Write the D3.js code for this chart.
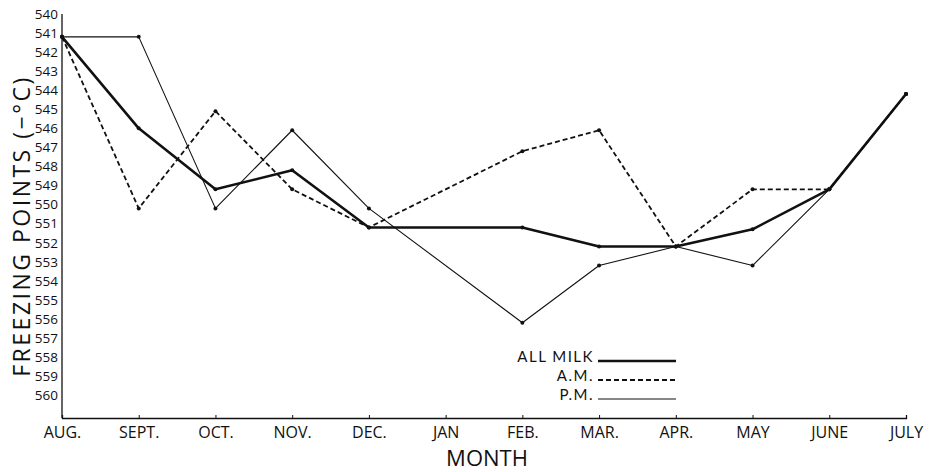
<!DOCTYPE html>
<html>
<head>
<meta charset="utf-8">
<script src="https://cdn.jsdelivr.net/npm/d3@7"></script>
<style>
  body { margin: 0; background: #fff; }
  svg { display: block; }
  .lbl { font-family: "Open Sans", sans-serif; fill: #111; }
  .leg { font-family: Lato, "Open Sans", sans-serif; fill: #111; }
</style>
</head>
<body>
<svg id="chart" width="937" height="472"></svg>
<script>
// months along the x axis
const months = ["AUG.", "SEPT.", "OCT.", "NOV.", "DEC.", "JAN", "FEB.", "MAR.", "APR.", "MAY", "JUNE", "JULY"];
// freezing points (-°C x 1000), null = no reading that month
const allMilk = [541.2, 546.0, 549.2, 548.2, 551.2, null, 551.2, 552.2, 552.2, 551.3, 549.2, 544.2];
const amMilk  = [541.2, 550.2, 545.1, 549.2, 551.2, null, 547.2, 546.1, 552.2, 549.2, 549.2, 544.2];
const pmMilk  = [541.2, 541.2, 550.2, 546.1, 550.2, null, 556.2, 553.2, 552.2, 553.2, 549.2, 544.2];
const yTicks = d3.range(540, 561);
const legendNames = ["ALL MILK", "A.M.", "P.M."];

const svg = d3.select("#chart");
const margin = {left: 62, right: 31, top: 14, bottom: 54};
const width = 937, height = 472;

const x = d3.scalePoint()
  .domain(months)
  .range([margin.left, width - margin.right]);
// 540 sits at the top, 560 near the bottom, axis runs a bit past 560
const y = d3.scaleLinear()
  .domain([540, 561.2])
  .range([margin.top, height - margin.bottom]);

const xAxisY = height - margin.bottom;

// y axis: bare line plus labels
svg.append("g")
  .attr("transform", `translate(${margin.left},0)`)
  .call(d3.axisLeft(y).tickValues(yTicks).tickSize(0).tickPadding(4).tickFormat(d3.format("d")))
  .call(g => g.select(".domain").attr("stroke", "#111").attr("stroke-width", 1.3).attr("d", `M0,${margin.top}V${xAxisY}`))
  .call(g => g.selectAll("text").attr("class", "lbl").attr("font-size", 13.5).attr("fill", "#111"));

// x axis
svg.append("g")
  .attr("transform", `translate(0,${xAxisY})`)
  .call(d3.axisBottom(x).tickSize(-3).tickPadding(9))
  .call(g => g.select(".domain").attr("stroke", "#111").attr("stroke-width", 1.3))
  .call(g => g.selectAll(".tick line").attr("stroke", "#111"))
  .call(g => g.selectAll("text").attr("class", "lbl").attr("font-size", 16).attr("fill", "#111"));

// axis titles
svg.append("text")
  .attr("class", "lbl")
  .attr("transform", `translate(30,${(margin.top + xAxisY) / 2 + 10}) rotate(-90)`)
  .attr("text-anchor", "middle")
  .attr("font-size", 23)
  .attr("letter-spacing", 2.5)
  .text("FREEZING POINTS (−°C)");

svg.append("text")
  .attr("class", "lbl")
  .attr("x", (margin.left + width - margin.right) / 2 + 3)
  .attr("y", 466)
  .attr("text-anchor", "middle")
  .attr("font-size", 22)
  .text("MONTH");

const series = [
  {name: "ALL MILK", values: allMilk, width: 2.6, dash: null},
  {name: "A.M.", values: amMilk, width: 1.8, dash: "5,3"},
  {name: "P.M.", values: pmMilk, width: 1.1, dash: null}
];

series.forEach(s => {
  // drop the missing month so the segment spans across it
  const pts = s.values.map((v, i) => ({v, i})).filter(p => p.v != null);
  svg.append("path")
    .attr("d", d3.line().x(p => x(months[p.i])).y(p => y(p.v))(pts))
    .attr("fill", "none")
    .attr("stroke", "#111")
    .attr("stroke-width", s.width)
    .attr("stroke-dasharray", s.dash)
    .attr("stroke-linejoin", "round");
  svg.append("g").selectAll("circle")
    .data(pts)
    .join("circle")
    .attr("cx", p => x(months[p.i]))
    .attr("cy", p => y(p.v))
    .attr("r", 2)
    .attr("fill", "#111");
});

// legend
const legY = [361, 380, 399];
const legX0 = 598, legX1 = 676;
series.forEach((s, i) => {
  svg.append("text")
    .attr("class", "leg")
    .attr("x", legX0 - 4)
    .attr("y", legY[i] + 1)
    .attr("text-anchor", "end")
    .attr("font-size", 15)
    .attr("letter-spacing", 1.5)
    .text(legendNames[i]);
  svg.append("line")
    .attr("x1", legX0)
    .attr("x2", legX1)
    .attr("y1", legY[i])
    .attr("y2", legY[i])
    .attr("stroke", "#111")
    .attr("stroke-width", s.width)
    .attr("stroke-dasharray", s.dash);
});
</script>
</body>
</html>
